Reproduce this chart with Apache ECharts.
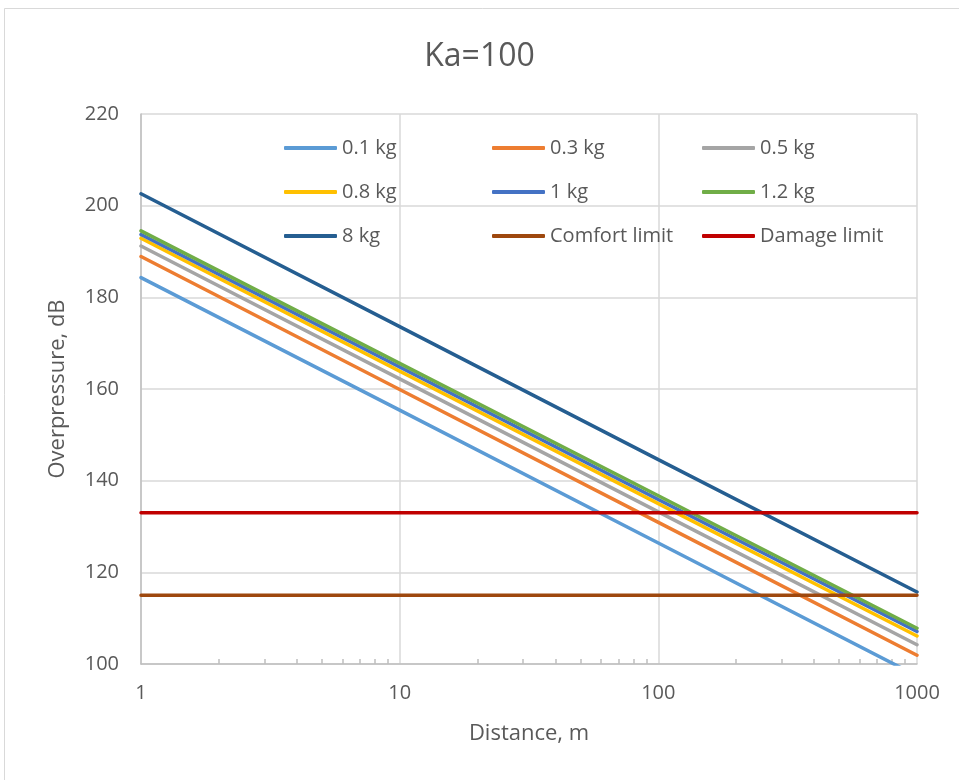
<!DOCTYPE html>
<html>
<head>
<meta charset="utf-8">
<script src="https://cdn.jsdelivr.net/npm/echarts@6/dist/echarts.min.js"></script>
<style>
html,body{margin:0;padding:0;background:#fff;}
#chart{width:959px;height:780px;}
</style>
</head>
<body>
<div id="chart"></div>
<script>
// Distances (m) at which values were read
const distances = [1, 10, 100, 1000];
// Overpressure (dB) per charge mass
const s01kg = [184.3, 155.4, 126.4, 97.4];
const s03kg = [188.9, 159.9, 130.9, 101.9];
const s05kg = [191.2, 162.2, 133.2, 104.2];
const s08kg = [192.9, 163.9, 135.0, 106.1];
const s1kg  = [193.7, 164.8, 135.9, 107.1];
const s12kg = [194.5, 165.6, 136.7, 107.8];
const s8kg  = [202.6, 173.6, 144.6, 115.7];
const comfortLimit = [115, 115, 115, 115];
const damageLimit  = [133, 133, 133, 133];
const seriesNames = ['0.1 kg','0.3 kg','0.5 kg','0.8 kg','1 kg','1.2 kg','8 kg','Comfort limit','Damage limit'];
const yTicks = [100, 120, 140, 160, 180, 200, 220];
const minorTickValues = [2,3,4,5,6,7,8,9,20,30,40,50,60,70,80,90,200,300,400,500,600,700,800,900];

const colors = ['#5B9BD5','#ED7D31','#A5A5A5','#FFC000','#4472C4','#70AD47','#255E91','#9E480E','#C00000'];
const allValues = [s01kg, s03kg, s05kg, s08kg, s1kg, s12kg, s8kg, comfortLimit, damageLimit];

const textColor = '#595959';
const font = '"Open Sans", sans-serif';

const series = seriesNames.map((name, i) => ({
  name: name,
  type: 'line',
  xAxisIndex: 0,
  yAxisIndex: 0,
  symbol: 'none',
  clip: true,
  silent: true,
  lineStyle: { color: colors[i], width: 3.5, cap: 'round' },
  itemStyle: { color: colors[i] },
  data: distances.map((d, j) => [d, allValues[i][j]])
}));

function legendCol(names, left) {
  return {
    data: names,
    orient: 'vertical',
    left: left,
    top: 138,
    padding: 0,
    itemGap: 24,
    itemWidth: 53,
    itemHeight: 4,
    icon: 'roundRect',
    selectedMode: false,
    textStyle: { color: textColor, fontSize: 20, fontFamily: font }
  };
}

const option = {
  backgroundColor: '#ffffff',
  animation: false,
  color: colors,
  title: {
    text: 'Ka=100',
    left: 'center',
    top: 36,
    textStyle: { color: textColor, fontSize: 32, fontWeight: 'normal', fontFamily: font }
  },
  graphic: [{
    type: 'rect',
    shape: { x: 4.5, y: 8.5, width: 1000, height: 1000 },
    style: { fill: 'none', stroke: '#d9d9d9', lineWidth: 1 },
    silent: true
  }],
  legend: [
    legendCol(['0.1 kg','0.8 kg','8 kg'], 284),
    legendCol(['0.3 kg','1 kg','Comfort limit'], 492),
    legendCol(['0.5 kg','1.2 kg','Damage limit'], 702)
  ],
  grid: { left: 141, right: 42, top: 114, bottom: 116, containLabel: false },
  xAxis: [{
    type: 'log',
    logBase: 10,
    min: 1,
    max: 1000,
    name: 'Distance, m',
    nameLocation: 'middle',
    nameGap: 59,
    nameTextStyle: { color: textColor, fontSize: 22, fontFamily: font },
    axisLine: { show: true, lineStyle: { color: '#bfbfbf', width: 1.5 } },
    axisTick: { show: false },
    axisLabel: { color: textColor, fontSize: 20, fontFamily: font, margin: 19, formatter: v => String(v) },
    splitLine: { show: true, lineStyle: { color: '#d9d9d9', width: 1.5 } },
    minorTick: { show: false },
    minorSplitLine: { show: false }
  }, {
    type: 'log',
    logBase: 10,
    min: 1,
    max: 1000,
    position: 'bottom',
    gridIndex: 0,
    axisLine: { show: false },
    axisLabel: { show: false },
    splitLine: { show: false },
    axisTick: { show: true, inside: true, length: 5, customValues: minorTickValues, lineStyle: { color: '#bfbfbf', width: 1.5 } }
  }],
  yAxis: [{
    type: 'value',
    min: 100,
    max: 220,
    interval: 20,
    name: 'Overpressure, dB',
    nameLocation: 'middle',
    nameGap: 72,
    nameTextStyle: { color: textColor, fontSize: 22, fontFamily: font },
    axisLine: { show: true, lineStyle: { color: '#bfbfbf', width: 1.5 } },
    axisTick: { show: false },
    axisLabel: {
      color: textColor, fontSize: 20, fontFamily: font, margin: 22,
      customValues: yTicks
    },
    splitLine: { show: true, lineStyle: { color: '#d9d9d9', width: 1.5 } }
  }],
  series: series
};

const chart = echarts.init(document.getElementById('chart'), null, { renderer: 'canvas' });
chart.setOption(option);
</script>
</body>
</html>
